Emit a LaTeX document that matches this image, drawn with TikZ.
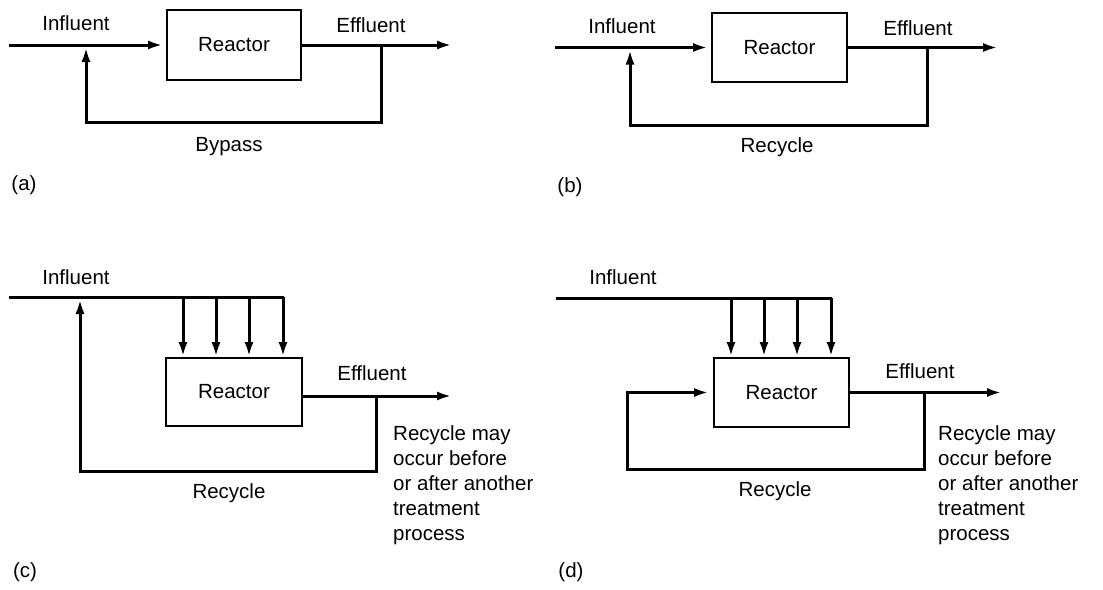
\documentclass[tikz,border=0pt]{standalone}
\usepackage{fontspec}
\setmainfont{Liberation Sans}
\usetikzlibrary{arrows.meta}
\begin{document}
\begin{tikzpicture}[x=1pt,y=-1pt,
  flow/.style={line width=3pt},
  arr/.style={-{Latex[length=15pt,width=9pt]}},
  reactor/.style={draw,line width=2pt,rectangle,inner sep=0pt,font=\fontsize{20.5}{25}\selectfont},
  lbl/.style={inner sep=0pt,font=\fontsize{20.5}{25}\selectfont},
  note/.style={inner sep=0pt,align=left,anchor=north west,font=\fontsize{20.5}{25}\selectfont}]
\useasboundingbox (0,0) rectangle (1103,589);

% ---------- (a) ----------
\node[reactor,minimum width=134pt,minimum height=70pt] (ra) at (234,45) {Reactor};
\coordinate (ina) at (9,45);
\coordinate (ea) at (452,45);
\coordinate (ja) at (381,45);
\coordinate (ka) at (86,45);
\draw[flow,arr,shorten >=3pt] (ina) -- (ra.west);
\draw[flow,arr] (ra.east) -- (ea);
\draw[flow,arr,shorten >=2pt] (ja) -- (381,122) -- (86,122) -- (ka);
\node[lbl] (la1) at (76,23) {Influent};
\node[lbl] (la2) at (371,25) {Effluent};
\node[lbl] (la3) at (229,147) {Bypass};
\node[lbl] (la4) at (24,185) {(a)};

% ---------- (b) ----------
\node[reactor,minimum width=135pt,minimum height=69pt] (rb) at (779.5,47.5) {Reactor};
\coordinate (inb) at (555,47.5);
\coordinate (eb) at (998,47.5);
\coordinate (jb) at (927,47.5);
\coordinate (kb) at (630,47.5);
\draw[flow,arr,shorten >=3pt] (inb) -- (rb.west);
\draw[flow,arr] (rb.east) -- (eb);
\draw[flow,arr,shorten >=2pt] (jb) -- (927,125) -- (630,125) -- (kb);
\node[lbl] (lb1) at (622,26) {Influent};
\node[lbl] (lb2) at (918,28) {Effluent};
\node[lbl] (lb3) at (777,147) {Recycle};
\node[lbl] (lb4) at (570,187) {(b)};

% ---------- (c) ----------
\node[reactor,minimum width=136pt,minimum height=68pt] (rc) at (234,392) {Reactor};
\coordinate (inc) at (9,297);
\coordinate (endc) at (284,297);
\coordinate (sc) at (302,396);
\coordinate (ec) at (452,396);
\coordinate (jc) at (376,396);
\coordinate (kc) at (80,297);
\draw[flow] (inc) -- (endc);
\foreach \xx/\nm in {183/c1,216/c2,249/c3,283/c4}{
  \coordinate (\nm) at (\xx,297);
  \draw[flow,arr] (\nm) -- (\xx,357);
}
\draw[flow,arr] (sc) -- (ec);
\draw[flow,arr,shorten >=2pt] (jc) -- (376,471) -- (80,471) -- (kc);
\node[lbl] (lc1) at (76,277) {Influent};
\node[lbl] (lc2) at (372,373) {Effluent};
\node[lbl] (lc3) at (229,493) {Recycle};
\node[note] (lc5) at (393,425) {Recycle may\\occur before\\or after another\\treatment\\process};
\node[lbl] (lc4) at (25,572) {(c)};

% ---------- (d) ----------
\node[reactor,minimum width=135pt,minimum height=69pt] (rd) at (781.5,392.5) {Reactor};
\coordinate (ind) at (556,298);
\coordinate (endd) at (832,298);
\coordinate (ed) at (1002,392.5);
\coordinate (jd) at (924,392.5);
\draw[flow] (ind) -- (endd);
\foreach \xx/\nm in {731/d1,764/d2,797/d3,831/d4}{
  \coordinate (\nm) at (\xx,298);
  \draw[flow,arr] (\nm) -- (\xx,357);
}
\draw[flow,arr] (rd.east) -- (ed);
\draw[flow,arr,shorten >=4pt] (jd) -- (924,469) -- (627,469) -- (627,392.5) -- (rd.west);
\node[lbl] (ld1) at (623,277) {Influent};
\node[lbl] (ld2) at (920,371) {Effluent};
\node[lbl] (ld3) at (775,491) {Recycle};
\node[note] (ld5) at (938,425) {Recycle may\\occur before\\or after another\\treatment\\process};
\node[lbl] (ld4) at (571,572) {(d)};
\end{tikzpicture}
\end{document}
